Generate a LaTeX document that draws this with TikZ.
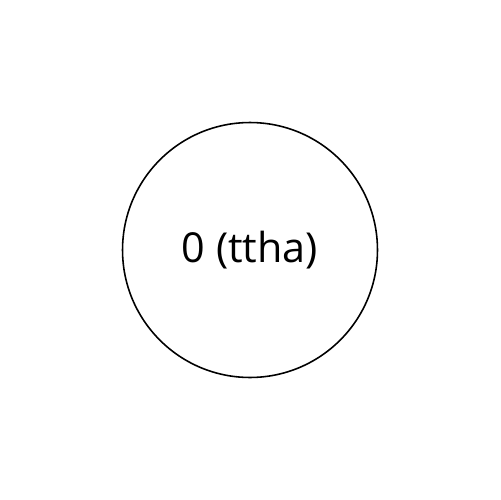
\documentclass[tikz,border=0pt]{standalone}
\usepackage{fontspec}
\setmainfont{Open Sans}
\usepackage{tikz}
\usetikzlibrary{positioning}

\begin{document}
\begin{tikzpicture}[
        x=0.02cm, y=-0.02cm,
        state/.style={circle, draw=black, line width=0.9pt, minimum size=5.1cm, font=\fontsize{23.5}{28}\selectfont},
    ]
        \useasboundingbox (0,0) rectangle (500,500);
        \node[state] (zero) at (250,250) {0 (ttha)};
    \end{tikzpicture}
\end{document}
